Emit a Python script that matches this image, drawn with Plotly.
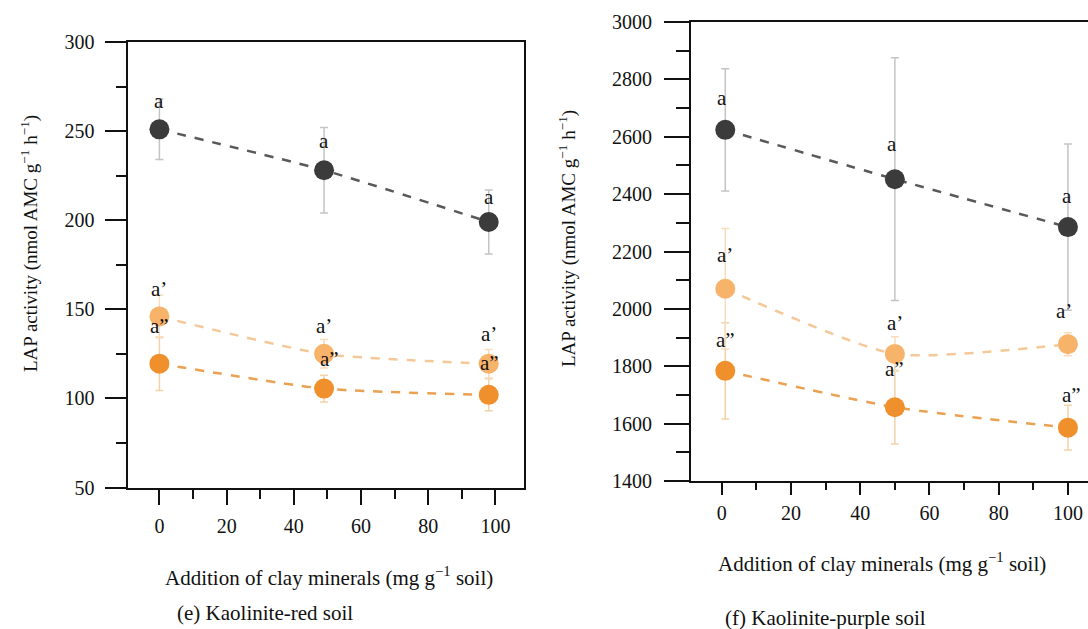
import plotly.graph_objects as go

# ---------------- data ----------------
x_red = [0, 49, 98]
red_dark = [251, 228, 199]
red_dark_err = [17, 24, 18]
red_light = [146, 125, 119.5]
red_light_err = [12, 8, 8]
red_orange = [119.5, 105.5, 102]
red_orange_err = [15, 7.5, 9]

x_purple = [1, 50, 100]
pur_dark = [2624, 2452, 2285]
pur_dark_err = [213, 423, 290]
pur_light = [2070, 1843, 1877]
pur_light_err = [210, 60, 40]
pur_orange = [1784, 1657, 1586]
pur_orange_err = [168, 128, 78]

letters_dark = ["a", "a", "a"]
letters_light = ["a\u2019", "a\u2019", "a\u2019"]
letters_orange = ["a\u201d", "a\u201d", "a\u201d"]

# label offsets (pixels) — styling only
red_shift = {"dark": ([0, 0, 0], [28, 29, 25]),
             "light": ([0, 0, 0], [27, 28, 30]),
             "orange": ([0, 5, 1], [38, 30, 32])}
pur_shift = {"dark": ([-3, -3, -1], [32, 35, 31]),
             "light": ([0, 0, -4], [34, 31, 33]),
             "orange": ([0, 0, 4], [31, 38, 33])}

FONT = "Liberation Serif, 'Times New Roman', serif"
C_DARK = "#3b3b3b"
C_LIGHT = "#F8B36B"
C_ORANGE = "#F0902C"
L_DARK = "#595959"
L_LIGHT = "#F5C89A"
L_ORANGE = "#EBA152"
E_DARK = "#C4C4C4"
E_LIGHT = "#F7DDBB"
E_ORANGE = "#F3D2A8"

fig = go.Figure()


def add_series(x, y, err, color, lcolor, ecolor, xa, ya):
    fig.add_trace(go.Scatter(
        x=x, y=y, mode="lines+markers", xaxis=xa, yaxis=ya,
        line=dict(color=lcolor, width=2.5, dash="9px,9px", shape="spline", smoothing=0.6),
        marker=dict(size=20, color=color, line=dict(width=0)),
        error_y=dict(type="data", array=err, visible=True, color=ecolor, thickness=1.5, width=4),
        showlegend=False, hoverinfo="skip"))


for xa, ya, x, series in [
    ("x", "y", x_red, [(red_orange, red_orange_err, C_ORANGE, L_ORANGE, E_ORANGE),
                       (red_light, red_light_err, C_LIGHT, L_LIGHT, E_LIGHT),
                       (red_dark, red_dark_err, C_DARK, L_DARK, E_DARK)]),
    ("x2", "y2", x_purple, [(pur_orange, pur_orange_err, C_ORANGE, L_ORANGE, E_ORANGE),
                            (pur_light, pur_light_err, C_LIGHT, L_LIGHT, E_LIGHT),
                            (pur_dark, pur_dark_err, C_DARK, L_DARK, E_DARK)]),
]:
    for y, e, c, lc, ec in series:
        add_series(x, y, e, c, lc, ec, xa, ya)

annotations = []


def add_letters(x, y, letters, shifts, xref, yref):
    xs, ys = shifts
    for xi, yi, t, dx, dy in zip(x, y, letters, xs, ys):
        annotations.append(dict(x=xi, y=yi, xref=xref, yref=yref, text=t, showarrow=False,
                                xshift=dx, yshift=dy,
                                font=dict(family=FONT, size=21, color="#111111")))


add_letters(x_red, red_dark, letters_dark, red_shift["dark"], "x", "y")
add_letters(x_red, red_light, letters_light, red_shift["light"], "x", "y")
add_letters(x_red, red_orange, letters_orange, red_shift["orange"], "x", "y")
add_letters(x_purple, pur_dark, letters_dark, pur_shift["dark"], "x2", "y2")
add_letters(x_purple, pur_light, letters_light, pur_shift["light"], "x2", "y2")
add_letters(x_purple, pur_orange, letters_orange, pur_shift["orange"], "x2", "y2")

ytitle = "LAP activity (nmol AMC g<sup>\u22121</sup> h<sup>\u22121</sup>)"
xtitle = "Addition of clay minerals (mg g<sup>\u22121</sup> soil)"
tfont = dict(family=FONT, size=19, color="#111111")
xfont = dict(family=FONT, size=21, color="#111111")
cfont = dict(family=FONT, size=21, color="#111111")

W, H = 1088, 629
annotations += [
    dict(x=30 / W, y=1 - 244 / H, xref="paper", yref="paper", text=ytitle, textangle=-90,
         showarrow=False, font=tfont, xanchor="center", yanchor="middle"),
    dict(x=567 / W, y=1 - 239 / H, xref="paper", yref="paper", text=ytitle, textangle=-90,
         showarrow=False, font=tfont, xanchor="center", yanchor="middle"),
    dict(x=329 / W, y=1 - 576 / H, xref="paper", yref="paper", text=xtitle,
         showarrow=False, font=xfont, xanchor="center", yanchor="middle"),
    dict(x=882 / W, y=1 - 562 / H, xref="paper", yref="paper", text=xtitle,
         showarrow=False, font=xfont, xanchor="center", yanchor="middle"),
    dict(x=175 / W, y=1 - 613 / H, xref="paper", yref="paper", text="(e) Kaolinite-red soil",
         showarrow=False, font=cfont, xanchor="left", yanchor="middle"),
    dict(x=723 / W, y=1 - 618 / H, xref="paper", yref="paper", text="(f) Kaolinite-purple soil",
         showarrow=False, font=cfont, xanchor="left", yanchor="middle"),
]

tickfont = dict(family=FONT, size=20, color="#111111")
axis_common = dict(showgrid=False, zeroline=False, showline=True, linecolor="#111111", linewidth=2,
                   ticks="outside", tickcolor="#111111", tickwidth=2, tickfont=tickfont,
                   automargin=False)

fig.update_layout(
    width=W, height=H, margin=dict(l=0, r=0, t=0, b=0, autoexpand=False),
    paper_bgcolor="white", plot_bgcolor="white",
    annotations=annotations,
    xaxis=dict(domain=[127.5 / W, 524 / W], range=[-9.5, 108.5], tick0=0, dtick=20, ticklen=15,
               mirror=True, minor=dict(dtick=10, ticklen=9, ticks="outside", tickcolor="#111111", tickwidth=2),
               anchor="y", ticklabelstandoff=4, **axis_common),
    yaxis=dict(domain=[1 - 487.5 / H, 1 - 42 / H], range=[50, 300], tick0=50, dtick=50, ticklen=21,
               mirror=True, minor=dict(dtick=25, ticklen=10, ticks="outside", tickcolor="#111111", tickwidth=2),
               anchor="x", ticklabelstandoff=6, **axis_common),
    xaxis2=dict(domain=[691 / W, 1.0], range=[-8.9, 105.8], tick0=0, dtick=20, ticklen=12,
                mirror=True, minor=dict(dtick=10, ticklen=7, ticks="outside", tickcolor="#111111", tickwidth=2),
                anchor="y2", ticklabelstandoff=1, **axis_common),
    yaxis2=dict(domain=[1 - 481 / H, 1 - 22 / H], range=[1400, 3000], tick0=1400, dtick=200, ticklen=25,
                mirror=False, minor=dict(dtick=100, ticklen=13, ticks="outside", tickcolor="#111111", tickwidth=2),
                anchor="x2", ticklabelstandoff=8, **axis_common),
)

fig.write_html("out.html")
